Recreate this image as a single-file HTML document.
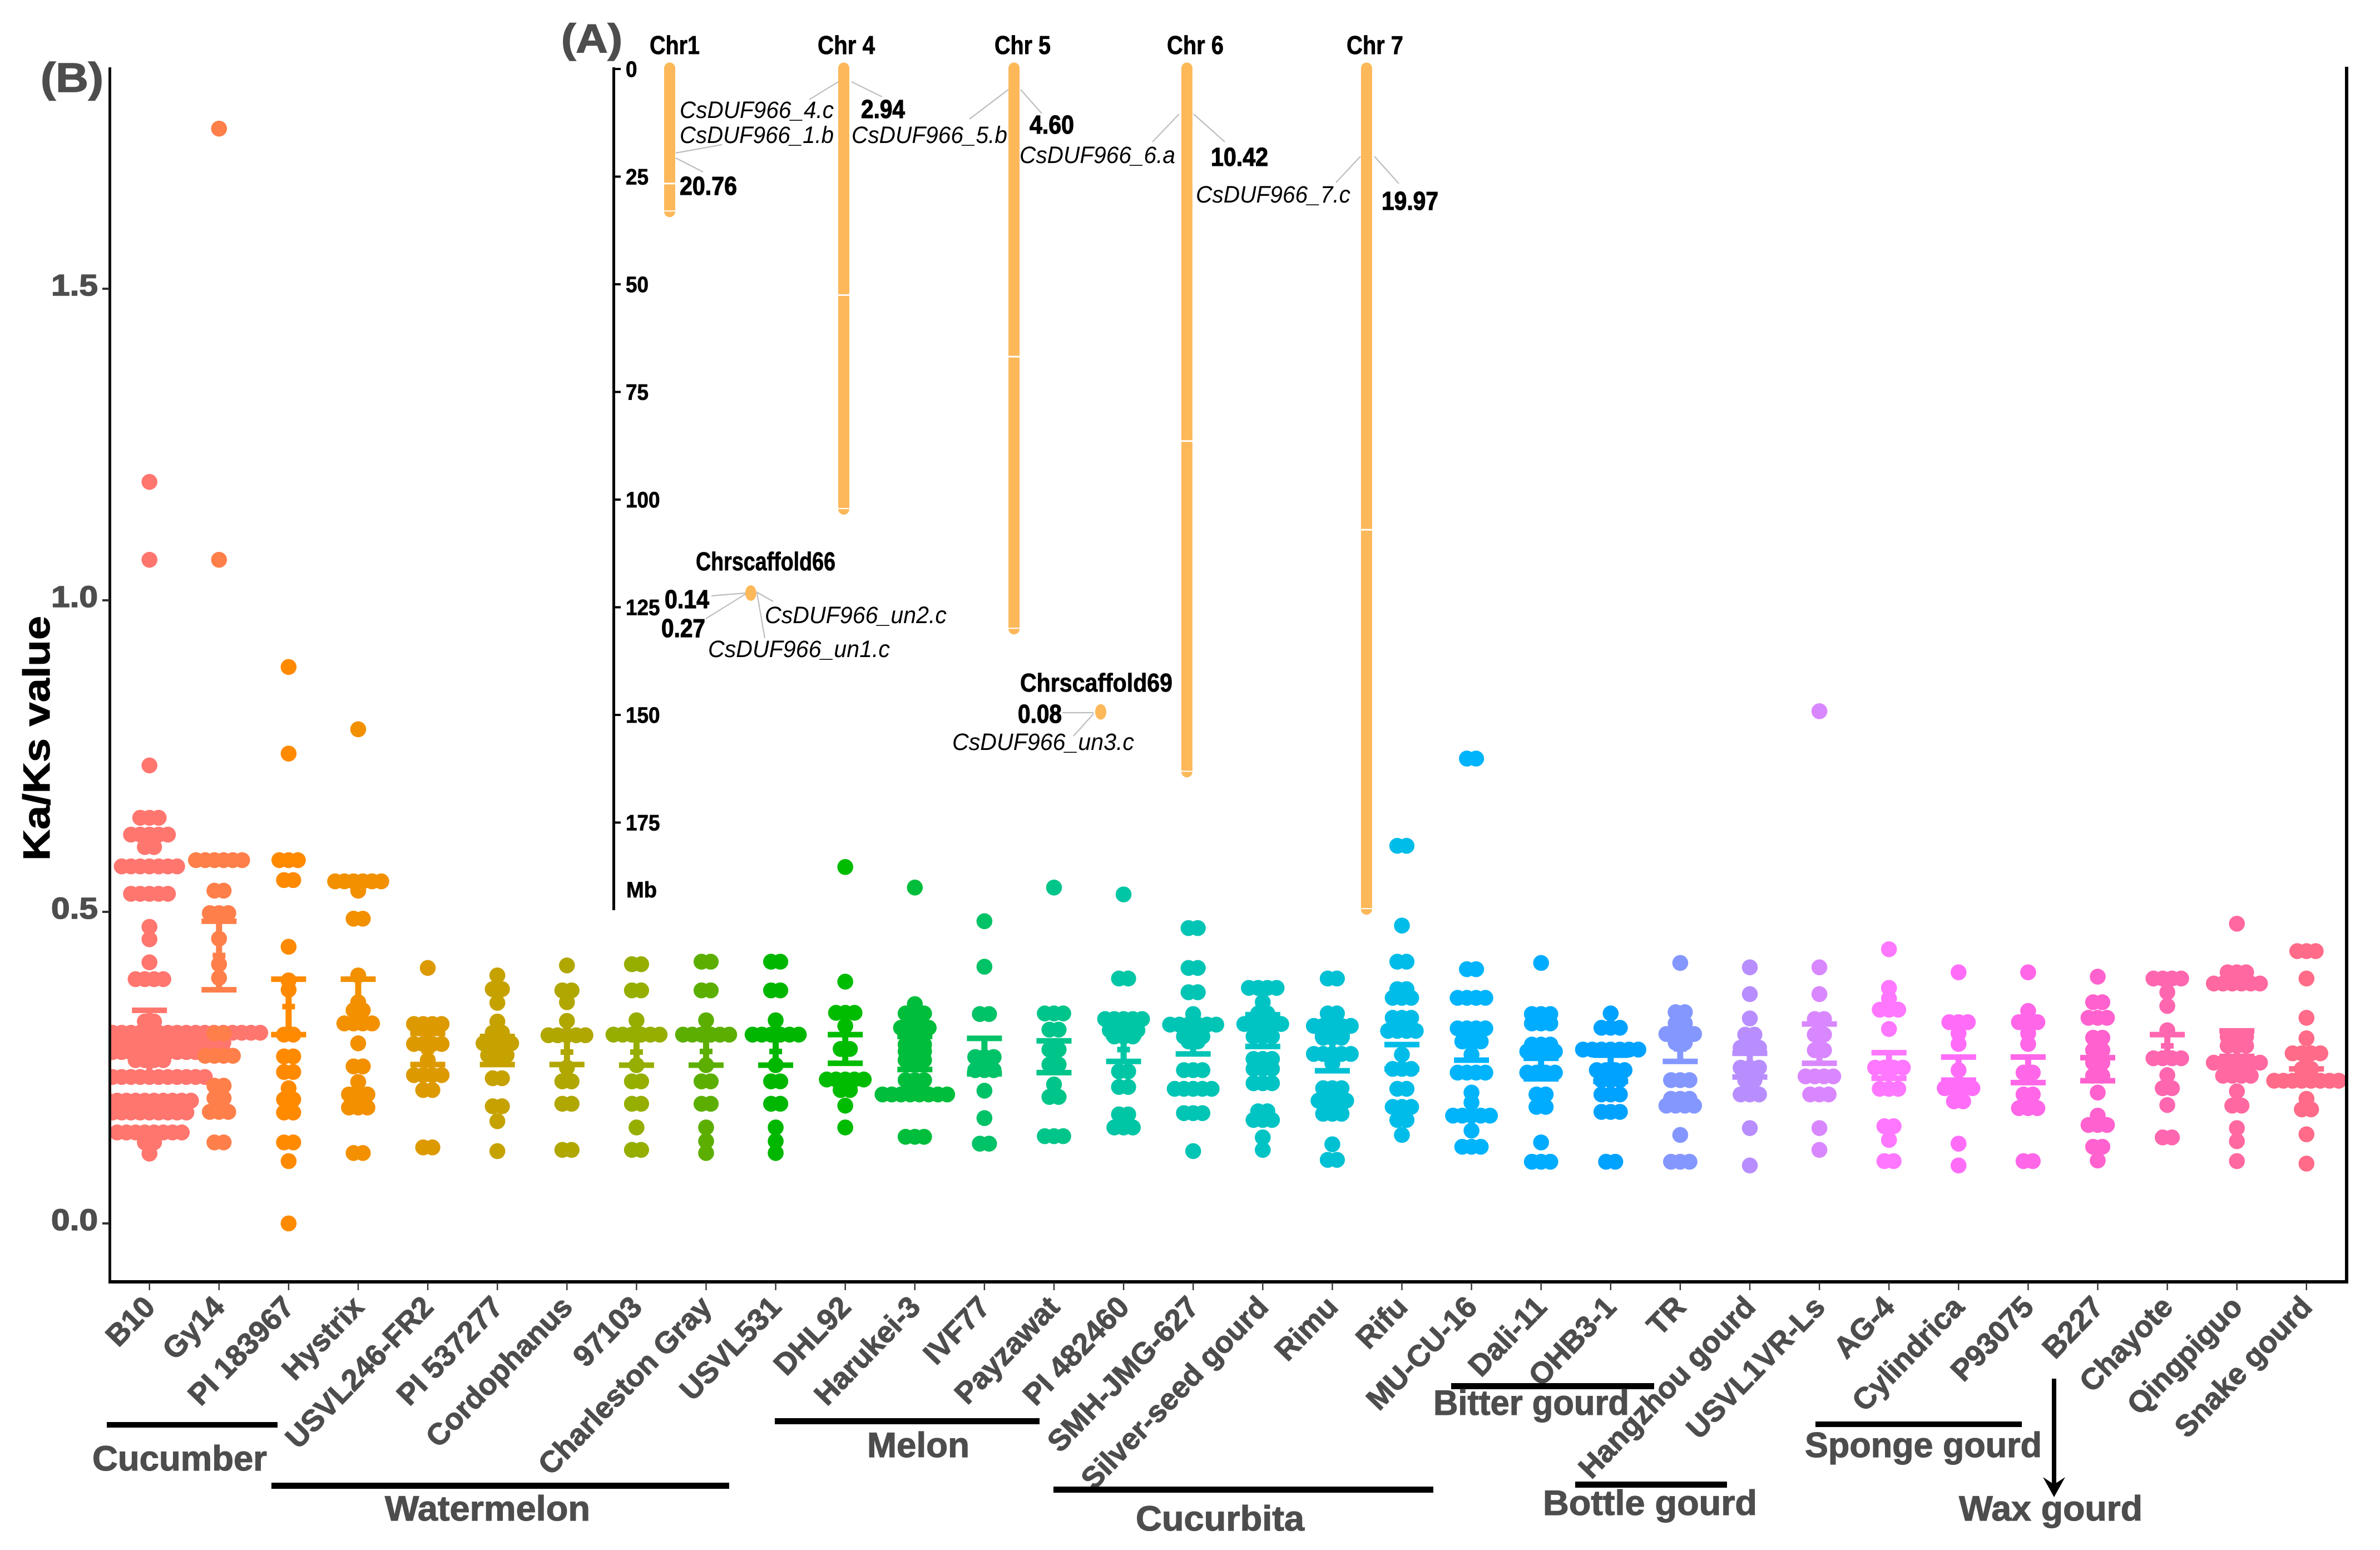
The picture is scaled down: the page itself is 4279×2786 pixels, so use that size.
<!DOCTYPE html>
<html lang="en">
<head>
<meta charset="utf-8">
<title>Ka/Ks values and chromosome locations of CsDUF966 genes</title>
<style>
html,body{margin:0;padding:0;background:#fff;}
svg{display:block;}
text{font-family:"Liberation Sans",sans-serif;}
.b{font-weight:700;}
.grp{font-weight:700;font-size:63px;fill:#4d4d4d;stroke:#4d4d4d;stroke-width:1.2;}
.gene{font-style:italic;font-size:43px;fill:#000;}
.num{font-weight:700;font-size:46px;fill:#000;stroke:#000;stroke-width:1.2;}
.chr{font-weight:700;font-size:46px;fill:#000;stroke:#000;stroke-width:.8;}
.lead{stroke:#bdbdbd;stroke-width:2.2;fill:none;}
</style>
</head>
<body>
<svg id="figure" xmlns="http://www.w3.org/2000/svg" width="4279" height="2786" viewBox="0 0 4279 2786">
<rect x="0" y="0" width="4279" height="2786" fill="#fff"/>
<defs><clipPath id="plotClip"><rect x="198" y="100" width="4022" height="2204"/></clipPath></defs>
<g id="panelB">
<g id="marks" clip-path="url(#plotClip)"></g>
<rect x="195" y="121" width="5" height="2185" fill="#111"/>
<rect x="4216" y="120" width="6" height="2186" fill="#000"/>
<rect x="195" y="2301" width="4027" height="6" fill="#000"/>
<g id="yTicks"></g>
<g id="xTicks"></g>
<text class="b" font-size="68" fill="#000" stroke="#000" stroke-width="1" transform="translate(89 1547) rotate(-90)" textLength="440" lengthAdjust="spacingAndGlyphs">Ka/Ks value</text>
<text class="b" font-size="74" fill="#4d4d4d" stroke="#4d4d4d" stroke-width="1.5" x="73" y="165" textLength="113" lengthAdjust="spacingAndGlyphs">(B)</text>
</g>
<g id="groups">
<rect x="192" y="2556" width="307" height="10" fill="#000"/>
<text class="grp" x="166" y="2643" textLength="314" lengthAdjust="spacingAndGlyphs">Cucumber</text>
<rect x="488" y="2665" width="823" height="11" fill="#000"/>
<text class="grp" x="692" y="2733" textLength="369" lengthAdjust="spacingAndGlyphs">Watermelon</text>
<rect x="1393" y="2549" width="476" height="11" fill="#000"/>
<text class="grp" x="1559" y="2619" textLength="184" lengthAdjust="spacingAndGlyphs">Melon</text>
<rect x="1894" y="2672" width="683" height="11" fill="#000"/>
<text class="grp" x="2042" y="2751" textLength="303" lengthAdjust="spacingAndGlyphs">Cucurbita</text>
<rect x="2609" y="2486" width="365" height="11" fill="#000"/>
<text class="grp" x="2577" y="2543" textLength="352" lengthAdjust="spacingAndGlyphs">Bitter gourd</text>
<rect x="2832" y="2663" width="273" height="11" fill="#000"/>
<text class="grp" x="2774" y="2723" textLength="385" lengthAdjust="spacingAndGlyphs">Bottle gourd</text>
<rect x="3264" y="2555" width="371" height="10" fill="#000"/>
<text class="grp" x="3245" y="2619" textLength="426" lengthAdjust="spacingAndGlyphs">Sponge gourd</text>
<rect x="3689" y="2478" width="8" height="190" fill="#000"/>
<polygon points="3693,2691 3673,2655 3693,2668 3713,2655" fill="#000"/>
<text class="grp" x="3522" y="2733" textLength="330" lengthAdjust="spacingAndGlyphs">Wax gourd</text>
</g>
<g id="panelA">
<text class="b" font-size="72" fill="#4d4d4d" stroke="#4d4d4d" stroke-width="1.5" x="1009" y="94" textLength="110" lengthAdjust="spacingAndGlyphs">(A)</text>
<rect x="1101" y="121" width="5" height="1515" fill="#000"/>
<g id="mbTicks"></g>
<text class="b" font-size="40" fill="#000" stroke="#000" stroke-width=".8" x="1126" y="1613" textLength="55" lengthAdjust="spacingAndGlyphs">Mb</text>
<g id="chroms"></g>
<text class="chr" x="1168" y="97" textLength="90" lengthAdjust="spacingAndGlyphs">Chr1</text>
<text class="chr" x="1470" y="97" textLength="103" lengthAdjust="spacingAndGlyphs">Chr 4</text>
<text class="chr" x="1788" y="97" textLength="101" lengthAdjust="spacingAndGlyphs">Chr 5</text>
<text class="chr" x="2098" y="97" textLength="102" lengthAdjust="spacingAndGlyphs">Chr 6</text>
<text class="chr" x="2421" y="97" textLength="102" lengthAdjust="spacingAndGlyphs">Chr 7</text>
<text class="chr" x="1251" y="1025" textLength="251" lengthAdjust="spacingAndGlyphs">Chrscaffold66</text>
<text class="chr" x="1834" y="1243" textLength="274" lengthAdjust="spacingAndGlyphs">Chrscaffold69</text>
<g>
<path class="lead" d="M1215 275L1298 260M1215 284L1264 309"/>
<path class="lead" d="M1507 147L1455 179M1531 147L1586 174"/>
<path class="lead" d="M1813 161L1743 214M1835 161L1873 204"/>
<path class="lead" d="M2120 205L2072 255M2146 205L2202 255"/>
<path class="lead" d="M2446 281L2402 328M2471 281L2515 330"/>
<path class="lead" d="M1340 1066L1279 1071M1340 1068L1269 1112M1360 1064L1390 1081M1361 1066L1375 1147"/>
<path class="lead" d="M1966 1281L1910 1281M1966 1283L1930 1323"/>
</g>
<text class="gene" x="1222" y="212" textLength="277" lengthAdjust="spacingAndGlyphs">CsDUF966_4.c</text>
<text class="gene" x="1222" y="257" textLength="277" lengthAdjust="spacingAndGlyphs">CsDUF966_1.b</text>
<text class="gene" x="1531" y="257" textLength="280" lengthAdjust="spacingAndGlyphs">CsDUF966_5.b</text>
<text class="gene" x="1833" y="293" textLength="280" lengthAdjust="spacingAndGlyphs">CsDUF966_6.a</text>
<text class="gene" x="2150" y="364" textLength="278" lengthAdjust="spacingAndGlyphs">CsDUF966_7.c</text>
<text class="gene" x="1375" y="1120" textLength="327" lengthAdjust="spacingAndGlyphs">CsDUF966_un2.c</text>
<text class="gene" x="1273" y="1181" textLength="327" lengthAdjust="spacingAndGlyphs">CsDUF966_un1.c</text>
<text class="gene" x="1712" y="1348" textLength="327" lengthAdjust="spacingAndGlyphs">CsDUF966_un3.c</text>
<text class="num" x="1222" y="350" textLength="103" lengthAdjust="spacingAndGlyphs">20.76</text>
<text class="num" x="1548" y="212" textLength="79" lengthAdjust="spacingAndGlyphs">2.94</text>
<text class="num" x="1851" y="240" textLength="80" lengthAdjust="spacingAndGlyphs">4.60</text>
<text class="num" x="2177" y="298" textLength="103" lengthAdjust="spacingAndGlyphs">10.42</text>
<text class="num" x="2484" y="377" textLength="102" lengthAdjust="spacingAndGlyphs">19.97</text>
<text class="num" x="1195" y="1093" textLength="80" lengthAdjust="spacingAndGlyphs">0.14</text>
<text class="num" x="1189" y="1145" textLength="79" lengthAdjust="spacingAndGlyphs">0.27</text>
<text class="num" x="1830" y="1299" textLength="79" lengthAdjust="spacingAndGlyphs">0.08</text>
</g>
</svg>
<script>
const categories = ["B10","Gy14","PI 183967","Hystrix","USVL246-FR2","PI 537277","Cordophanus","97103","Charleston Gray","USVL531","DHL92","Harukei-3","IVF77","Payzawat","PI 482460","SMH-JMG-627","Silver-seed gourd","Rimu","Rifu","MU-CU-16","Dali-11","OHB3-1","TR","Hangzhou gourd","USVL1VR-Ls","AG-4","Cylindrica","P93075","B227","Chayote","Qingpiguo","Snake gourd"];
const seriesColors = ["#FF766F","#FF7F4A","#FF8A00","#F29000","#DD9A00","#C6A200","#B0A700","#96AE00","#5CAF00","#00B700","#00BC00","#00BE3C","#00C266","#00C58A","#00C6A5","#00C4B4","#00C4C4","#00C0D4","#00BCE8","#00B4FC","#00ACFF","#00A2FF","#8497FF","#B88EFF","#D987FF","#FF76FF","#FF6DF8","#FF66E8","#FF62CE","#FF66B0","#FF68A0","#FF6B88"];
const kaKsLevels = [
[1.19,1.065,.735,.651,.624,.604,.573,.529,.476,.456,.419,.392,.324,.306,.29,.275,.262,.235,.197,.178,.146,.13,.112],
[1.757,1.065,.583,.534,.498,.457,.416,.394,.305,.269,.221,.201,.179,.13],
[.893,.754,.583,.551,.444,.39,.375,.303,.268,.243,.217,.199,.178,.13,.1,0],
[.793,.549,.534,.489,.398,.355,.342,.321,.289,.252,.227,.207,.186,.113],
[.41,.32,.288,.262,.238,.214,.122],
[.398,.376,.354,.324,.306,.289,.27,.233,.188,.164,.116],
[.414,.374,.355,.325,.302,.25,.228,.192,.118],
[.416,.374,.326,.303,.254,.228,.192,.154,.118],
[.42,.374,.326,.303,.254,.228,.192,.154,.132,.113],
[.42,.374,.326,.303,.254,.228,.192,.154,.132,.113],
[.572,.388,.338,.317,.28,.231,.214,.189,.154],
[.539,.352,.337,.314,.287,.276,.262,.23,.207,.139],
[.485,.412,.336,.267,.246,.213,.169,.128],
[.539,.337,.311,.279,.255,.223,.203,.14],
[.528,.393,.328,.31,.3,.244,.219,.175,.154],
[.474,.41,.371,.336,.319,.3,.292,.246,.216,.177,.116],
[.378,.355,.337,.32,.3,.264,.248,.225,.18,.166,.138,.118],
[.393,.337,.317,.298,.272,.257,.217,.197,.176,.127,.102],
[.606,.478,.42,.376,.362,.33,.309,.271,.248,.216,.187,.166,.142],
[.746,.408,.362,.313,.292,.271,.242,.21,.194,.173,.149,.123],
[.418,.336,.321,.287,.276,.242,.207,.187,.13,.099],
[.337,.314,.279,.246,.23,.207,.179,.099],
[.418,.339,.321,.304,.29,.23,.2,.189,.142,.099],
[.411,.368,.329,.303,.282,.25,.23,.207,.153,.093],
[.822,.411,.368,.328,.303,.278,.236,.207,.153,.118],
[.44,.378,.361,.343,.312,.25,.216,.156,.134,.1],
[.403,.323,.305,.288,.246,.217,.196,.128,.093],
[.403,.341,.323,.305,.288,.242,.207,.185,.1],
[.396,.355,.33,.298,.278,.258,.237,.21,.173,.158,.123,.101],
[.393,.371,.349,.31,.265,.238,.217,.19,.138],
[.481,.403,.385,.3,.285,.258,.237,.212,.189,.153,.132,.1],
[.437,.393,.33,.297,.273,.248,.229,.2,.183,.143,.096]
];
const kaKsCounts = [
[1,1,1,3,5,2,7,5,1,1,1,4,2,25,17,17,4,13,10,9,8,2,1],
[1,1,6,2,3,1,1,1,2,4,2,2,3,2],
[1,1,3,2,1,1,1,2,2,2,1,2,2,2,1,1],
[1,6,1,2,1,1,2,4,1,2,1,3,3,2],
[1,4,4,1,4,2,2],
[1,2,1,1,2,4,3,2,2,1,1],
[1,2,1,1,5,1,2,2,2],
[2,2,1,6,1,2,2,1,2],
[2,2,1,6,1,2,2,1,1,1],
[2,2,1,6,1,2,2,1,1,1],
[1,1,3,1,2,5,2,1,1],
[1,1,3,4,3,3,3,3,8,3],
[1,1,2,3,3,1,1,2],
[1,3,2,2,2,1,2,3],
[1,2,5,4,3,2,2,2,3],
[2,2,2,1,6,3,2,3,5,3,1],
[4,1,2,5,3,3,3,3,2,3,1,1],
[2,2,5,3,5,1,3,4,3,1,2],
[2,1,2,2,3,3,4,1,3,2,3,2,1],
[2,2,4,4,3,1,4,1,1,5,1,3],
[1,3,3,3,4,4,2,2,1,3],
[1,3,7,4,3,3,3,2],
[1,2,2,4,2,3,3,4,1,3],
[1,1,1,2,3,3,2,3,1,1],
[1,1,1,2,2,2,4,3,1,1],
[1,1,1,3,1,4,3,2,1,2],
[1,3,1,1,1,4,2,1,1],
[1,1,3,1,1,2,2,3,2],
[1,2,3,2,2,2,2,1,1,3,2,1],
[4,1,1,1,4,1,2,1,2],
[1,3,6,3,3,6,4,1,2,1,1,1],
[3,1,1,1,4,2,8,1,2,1,1]
];
const errUpper = [.342,.485,.392,.392,.305,.30,.302,.303,.303,.303,.303,.30,.297,.293,.30,.318,.335,.30,.287,.31,.265,.27,.30,.273,.32,.274,.267,.267,.266,.303,.309,.273];
const meanValues = [.285,.43,.348,.355,.277,.277,.275,.275,.276,.276,.28,.275,.267,.267,.279,.295,.31,.272,.268,.285,.249,.248,.28,.252,.288,.253,.248,.247,.247,.285,.288,.26];
const errLower = [.23,.375,.303,.32,.255,.255,.255,.254,.254,.254,.257,.247,.24,.242,.26,.272,.284,.245,.248,.262,.232,.228,.26,.235,.257,.233,.23,.226,.229,.265,.268,.248];
const yTickValues = [0,0.5,1,1.5];
const yTickLabels = ["0.0","0.5","1.0","1.5"];
const mbTickValues = [0,25,50,75,100,125,150,175];
const chromNames = ["chr-1","chr-4","chr-5","chr-6","chr-7"];
const chromSlots = [0,1,1.978,2.971,4.003];
const chromLengthsMb = [34.4,103.5,131.3,164.5,196.4];
const chromBandsMb = [26.6,52.5,66.8,86.4,107];
const scaffoldNames = ["scaffold-66","scaffold-69"];
const scaffoldSlots = [0.466,2.476];
const scaffoldMb = [121.7,149.3];

const NS = "http://www.w3.org/2000/svg";
const xPos = i => 268.7 + 125.1 * i;
const yPos = v => 2199 - 1120 * v;
const xSlot = s => 1204 + 313 * s;
const yMb = m => 124 + 7.74 * m;
const DOT_R = 14.3;
const DOT_STEP = 16.6;
const CAP_W = 63;
const BAR_H = 10;
const MEAN_W = 23;
const STEM_W = 11;
function make(tag, attrs) {
  const el = document.createElementNS(NS, tag);
  for (const k in attrs) el.setAttribute(k, attrs[k]);
  return el;
}
const marks = document.getElementById("marks");
categories.forEach((name, i) => {
  const slug = name.toLowerCase().replace(/[^a-z0-9]+/g, "-");
  const g = make("g", {fill: seriesColors[i]});
  
  
  kaKsLevels[i].forEach((v, r) => {
    const n = kaKsCounts[i][r];
    for (let d = 0; d < n; d++) {
      const c = make("circle", {cx: xPos(i) + (d - (n - 1) / 2) * DOT_STEP, cy: yPos(v), r: DOT_R});
      
      
      g.appendChild(c);
    }
  });
  const stem = make("rect", {x: xPos(i) - STEM_W / 2, y: yPos(errUpper[i]), width: STEM_W, height: yPos(errLower[i]) - yPos(errUpper[i])});
  
  
  g.appendChild(stem);
  const capU = make("rect", {x: xPos(i) - CAP_W / 2, y: yPos(errUpper[i]) - BAR_H / 2, width: CAP_W, height: BAR_H});
  
  
  g.appendChild(capU);
  const capL = make("rect", {x: xPos(i) - CAP_W / 2, y: yPos(errLower[i]) - BAR_H / 2, width: CAP_W, height: BAR_H});
  
  
  g.appendChild(capL);
  const mean = make("rect", {x: xPos(i) - MEAN_W / 2, y: yPos(meanValues[i]) - BAR_H / 2, width: MEAN_W, height: BAR_H});
  
  
  g.appendChild(mean);
  marks.appendChild(g);
});
const yTicks = document.getElementById("yTicks");
yTickValues.forEach((v, i) => {
  const t = make("rect", {x: 184, y: yPos(v) - 2, width: 12, height: 4, fill: "#333"});
  
  
  yTicks.appendChild(t);
  const l = make("text", {x: 92, y: yPos(v) + 12, "font-size": 54, "font-weight": 700, fill: "#4d4d4d", stroke: "#4d4d4d", "stroke-width": 1.5, textLength: 84, lengthAdjust: "spacingAndGlyphs"});
  
  
  l.textContent = yTickLabels[i];
  yTicks.appendChild(l);
});
const xTicks = document.getElementById("xTicks");
categories.forEach((name, i) => {
  const t = make("rect", {x: xPos(i) - 1.2, y: 2305, width: 2.4, height: 14, fill: "#333"});
  
  
  xTicks.appendChild(t);
  const l = make("text", {"text-anchor": "end", "font-size": 54, "font-weight": 700, fill: "#4d4d4d", stroke: "#4d4d4d", "stroke-width": 1.2, transform: "translate(" + (xPos(i) + 13) + " 2352) rotate(-46)"});
  
  
  l.textContent = name;
  xTicks.appendChild(l);
});
const mbTicks = document.getElementById("mbTicks");
mbTickValues.forEach(m => {
  const t = make("rect", {x: 1106, y: yMb(m) - 2, width: 10, height: 4, fill: "#000"});
  
  
  mbTicks.appendChild(t);
  const l = make("text", {x: 1125, y: yMb(m) + 14, "font-size": 40, "font-weight": 700, fill: "#000", stroke: "#000", "stroke-width": 0.8, textLength: String(m).length * 20.5, lengthAdjust: "spacingAndGlyphs"});
  
  
  l.textContent = String(m);
  mbTicks.appendChild(l);
});
const chroms = document.getElementById("chroms");
const CHROM_COLOR = "#FDB85A";
chromNames.forEach((name, i) => {
  const cx = xSlot(chromSlots[i]);
  const top = yMb(-1.5);
  const bottom = yMb(chromLengthsMb[i]);
  const body = make("rect", {x: cx - 10, y: top, width: 20, height: bottom - top, rx: 10, fill: CHROM_COLOR});
  
  
  chroms.appendChild(body);
  const band = make("rect", {x: cx - 10, y: yMb(chromBandsMb[i]) - 1.5, width: 20, height: 3, fill: "#fff"});
  
  
  chroms.appendChild(band);
  const tail = make("rect", {x: cx - 10, y: bottom - 12, width: 20, height: 2, fill: "#fff"});
  
  
  chroms.appendChild(tail);
});
scaffoldNames.forEach((name, i) => {
  const e = make("ellipse", {cx: xSlot(scaffoldSlots[i]), cy: yMb(scaffoldMb[i]), rx: 10, ry: 14, fill: CHROM_COLOR});
  
  
  chroms.appendChild(e);
});
</script>
</body>
</html>
